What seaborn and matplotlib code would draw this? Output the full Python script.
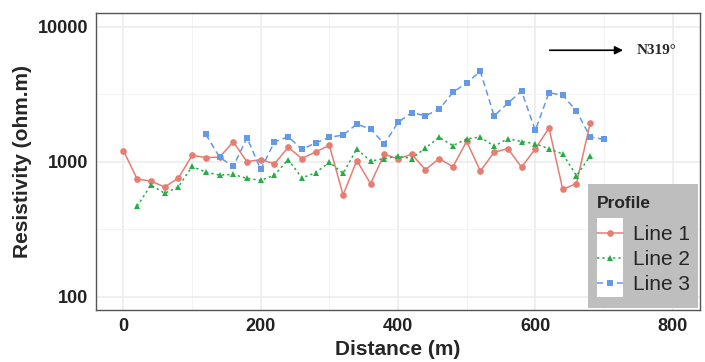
import numpy as np
import pandas as pd
import matplotlib
matplotlib.use("Agg")
import matplotlib.pyplot as plt
from matplotlib.patches import Rectangle
from matplotlib.ticker import FixedLocator, NullFormatter
import seaborn as sns

# --- datos ---
dist_l1 = list(range(0, 700, 20))
res_l1 = [1205, 740, 717, 647, 754, 1110, 1070, 1076, 1396, 995,
          1034, 961, 1274, 1052, 1178, 1318, 565, 1017, 686, 1131,
          1047, 1131, 869, 1052, 914, 1410, 849, 1171, 1246, 908,
          1240, 1770, 622, 686, 1925]

dist_l2 = list(range(20, 700, 20))
res_l2 = [467, 670, 582, 647, 919, 834, 793, 802, 750, 725,
          793, 1034, 755, 826, 988, 816, 1240, 1005, 1052, 1094,
          1052, 1261, 1510, 1311, 1469, 1520, 1296, 1477, 1403, 1357,
          1240, 1139, 785, 1094]

dist_l3 = list(range(120, 720, 20))
res_l3 = [1588, 1076, 919, 1500, 873, 1396, 1527, 1232, 1372, 1510,
          1571, 1892, 1739, 1349, 1946, 2305, 2179, 2440, 3252, 3828,
          4642, 2179, 2700, 3327, 1698, 3235, 3093, 2371, 1520, 1460]

profiles = ["Line 1", "Line 2", "Line 3"]
x_ticks = [0, 200, 400, 600, 800]
y_ticks = [100, 1000, 10000]

df = pd.concat([
    pd.DataFrame({"Distance": dist_l1, "Resistivity": res_l1, "Profile": "Line 1"}),
    pd.DataFrame({"Distance": dist_l2, "Resistivity": res_l2, "Profile": "Line 2"}),
    pd.DataFrame({"Distance": dist_l3, "Resistivity": res_l3, "Profile": "Line 3"}),
], ignore_index=True)

# --- estilo ---
sns.set_theme(style="white")
plt.rcParams["font.family"] = ["Liberation Sans", "DejaVu Sans"]

colores = {"Line 1": "#E57D73", "Line 2": "#27AD48", "Line 3": "#6499E6"}
guiones = {"Line 1": "", "Line 2": (1.5, 2), "Line 3": (4, 2.5)}
marcas = {"Line 1": "o", "Line 2": "^", "Line 3": "s"}

fig = plt.figure(figsize=(7.05, 3.62), dpi=100)
ax = fig.add_axes([96 / 705, 1 - 310 / 362, 604 / 705, 297 / 362])

sns.lineplot(data=df, x="Distance", y="Resistivity", hue="Profile", style="Profile",
             hue_order=profiles, style_order=profiles,
             palette=colores, dashes=guiones, markers=marcas,
             markersize=4.8, markeredgewidth=0, linewidth=1.1, ax=ax, legend=True)

ax.set_yscale("log")
ax.set_xlim(-40, 840)
ax.set_ylim(10 ** 1.9, 10 ** 4.1)
ax.set_xticks(x_ticks)
ax.set_yticks(y_ticks)
ax.set_yticklabels([str(t) for t in y_ticks])
ax.xaxis.set_minor_locator(FixedLocator([100, 300, 500, 700]))
ax.yaxis.set_minor_locator(FixedLocator([10 ** 2.5, 10 ** 3.5]))
ax.yaxis.set_minor_formatter(NullFormatter())

ax.grid(which="major", color="#EBEBEB", linewidth=1.1)
ax.grid(which="minor", color="#F2F2F2", linewidth=0.6)
ax.set_axisbelow(True)
for s in ax.spines.values():
    s.set_color("#555555")
    s.set_linewidth(1.0)
ax.tick_params(axis="both", which="major", length=3.5, width=0.9, color="#555555",
               labelsize=13, labelcolor="#222222", pad=2)
ax.tick_params(which="minor", length=0)
for lab in ax.get_xticklabels() + ax.get_yticklabels():
    lab.set_fontweight("bold")

ax.set_xlabel("Distance (m)", fontsize=15, fontweight="bold", labelpad=4)
ax.set_ylabel("Resistivity (ohm.m)", fontsize=15, fontweight="bold", labelpad=4)

# flecha de orientación
ax.annotate("", xy=(732, 6670), xytext=(617, 6670),
            arrowprops=dict(arrowstyle="-|>", color="black", lw=1.2, mutation_scale=12))
ax.text(748, 6670, "N319°", va="center", ha="left", fontsize=11, fontweight="bold",
        family=["Liberation Serif", "DejaVu Serif"])

# --- leyenda (fondo gris, llaves en blanco) ---
handles, labels = ax.get_legend_handles_labels()
ax.get_legend().remove()
leg = fig.legend(handles, labels, title="Profile", frameon=False,
                 loc="lower left", bbox_to_anchor=(597 / 705, (362 - 294) / 362),
                 fontsize=15, handlelength=1.25, handletextpad=0.48,
                 labelspacing=0.28, borderpad=0, borderaxespad=0, alignment="left")
leg.get_title().set_fontweight("bold")
leg.get_title().set_fontsize(12.5)
leg._legend_box.sep = 10
leg.set_zorder(10)

fig.canvas.draw()
r = fig.canvas.get_renderer()
W, H = fig.bbox.width, fig.bbox.height

# caja gris alrededor de la leyenda
lb = leg.get_window_extent(r)
gx0, gx1 = 588, 698
gy0, gy1 = 362 - 308, lb.y1 + 12
fig.add_artist(Rectangle((gx0 / W, gy0 / H), (gx1 - gx0) / W, (gy1 - gy0) / H,
                         transform=fig.transFigure, facecolor="#BEBEBE",
                         edgecolor="none", zorder=8))

# caja blanca detrás de las llaves
fig.add_artist(Rectangle((597 / W, (362 - 297) / H), 26 / W, 79 / H,
                         transform=fig.transFigure, facecolor="white",
                         edgecolor="none", zorder=9))

fig.savefig("out.png", dpi=100)
